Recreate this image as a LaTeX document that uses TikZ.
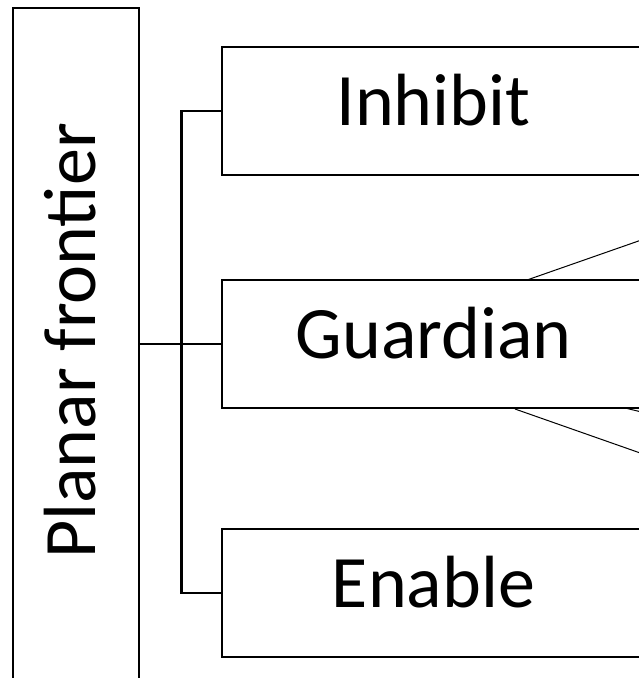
\documentclass[tikz,border=0pt]{standalone}
\usepackage{fontspec}
\setmainfont{Carlito}
\begin{document}
\begin{tikzpicture}[x=1pt,y=-1pt,
  every node/.style={font=\fontsize{74}{82}\selectfont},
  box/.style={draw=black, line width=2.2, fill=white, inner sep=0,
    minimum width=423, minimum height=128, text height=28, text depth=0},
  frame/.style={draw=black, line width=2.2, fill=white, inner sep=0,
    minimum width=126.5, minimum height=700},
  link/.style={draw=black, line width=2.2},
  thin/.style={draw=black, line width=1}]
\useasboundingbox (0,0) rectangle (639,678);
\clip (0,0) rectangle (639,678);

% lines running behind the Guardian box
\coordinate (u1) at (527,280);
\coordinate (u2) at (700,219.5);
\coordinate (d1) at (515,409);
\coordinate (d2) at (700,474);
\coordinate (e1) at (625,408);
\coordinate (e2) at (700,426);
\draw[thin] (u1) -- (u2);
\draw[thin] (d1) -- (d2);
\draw[thin] (e1) -- (e2);

% left frame with its rotated title
\node[frame] (pf) at (76,358) {};
\node[rotate=90, anchor=base] (pft) at (95.5,341) {Planar frontier};

% the three boxes
\node[box] (ih) at (433.5,111) {Inhibit};
\node[box] (gd) at (433.5,344) {Guardian};
\node[box] (en) at (433.5,593) {Enable};

% bracket connectors
\coordinate (bt) at (181.5,111);
\coordinate (bb) at (181.5,593);
\draw[link] (pf.east |- gd.west) -- (gd.west);
\draw[link] (ih.west) -- (bt) -- (bb) -- (en.west);
\end{tikzpicture}
\end{document}
